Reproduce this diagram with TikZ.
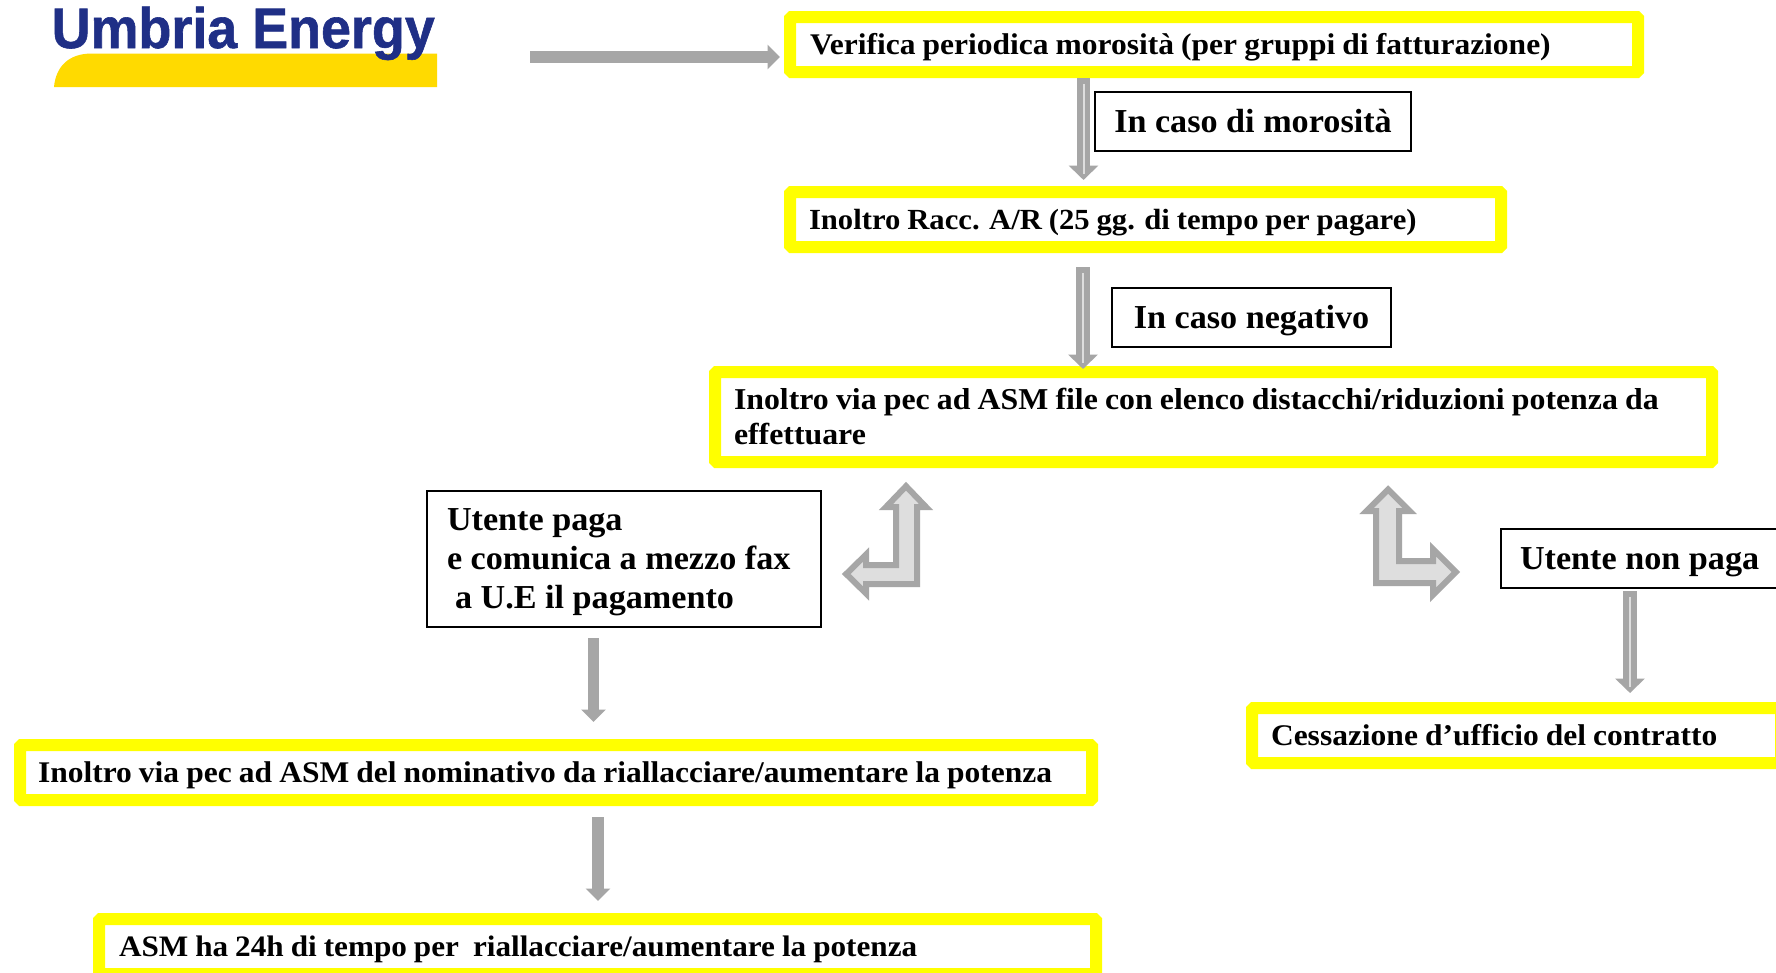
\documentclass[tikz,border=0pt]{standalone}
\usepackage{fontspec}
\usetikzlibrary{arrows.meta,calc}
\setmainfont{Liberation Serif}
\newfontfamily\smallface{Liberation Serif}[FakeStretch=1.05,WordSpace=0.9]
\newfontfamily\bigface{Liberation Serif}[FakeStretch=1.02]
\newfontfamily\logoface{Liberation Sans}[FakeStretch=0.945,FakeBold=1]
\definecolor{arrowgray}{HTML}{A6A6A6}
\definecolor{arrowlight}{HTML}{DEDEDE}
\definecolor{boxyellow}{HTML}{FFFF00}
\definecolor{logoyellow}{HTML}{FFDA00}
\definecolor{logoblue}{HTML}{1F2F86}
\newcommand{\ysize}[1]{\fontsize{#1}{35}\selectfont}
\tikzset{
  x=1pt,y=-1pt,
  ybox/.style={draw=boxyellow,fill=white,line width=12pt,outer sep=0pt,rounded corners=1.5pt,anchor=north west,
    align=flush left,inner ysep=0pt,font=\smallface\fontsize{30}{35}\selectfont\bfseries},
  oneline/.style={text height=24.5pt,text depth=4pt},
  kbox/.style={draw=black,fill=white,line width=2.4pt,outer sep=0pt,anchor=north west,inner sep=0pt,
    font=\bigface\fontsize{33.5}{39}\selectfont\bfseries},
  kline/.style={text height=26pt,text depth=4pt},
  solidarrow/.style={draw=arrowgray,line width=11.5pt,-{Triangle[length=12.5pt,width=24pt]}},
  hollowarrow/.style={draw=arrowgray,line width=13.5pt,-{Triangle[length=14.5pt,width=29pt]}},
  hollowcore/.style={draw=arrowlight,line width=2pt},
  bentarrow/.style={draw=arrowgray,fill=arrowlight,line width=6pt,miter limit=10}
}
\begin{document}
\begin{tikzpicture}
\useasboundingbox (0,0) rectangle (1776,972);
\clip (0,0) rectangle (1776,972);
\fill[white] (0,0) rectangle (1776,972);

% logo
\fill[logoyellow] (54,87) .. controls (56,66) and (69,53.5) .. (92,53.5) -- (437,53.5) -- (437,87) -- cycle;
\node[anchor=base west,inner sep=0pt,text=logoblue,font=\logoface\fontsize{57}{60}\selectfont\bfseries] (logo) at (51.5,48) {Umbria Energy};

% yellow boxes
\node[ybox,oneline,text width=808pt,inner xsep=20pt,minimum height=55pt] (b1) at (790,17) {Verifica periodica morosità (per gruppi di fatturazione)};
\node[ybox,oneline,text width=673pt,inner xsep=19pt,minimum height=55pt] (b2) at (790,192) {\ysize{29.2}Inoltro Racc. A/R (25 gg. di tempo per pagare)};
\node[ybox,text width=959pt,inner xsep=19pt,minimum height=90pt] (b3) at (715,372) {\ysize{30.3}Inoltro via pec ad ASM file con elenco distacchi/riduzioni potenza da\\effettuare};
\node[ybox,text width=491pt,inner xsep=19pt,minimum height=55pt] (b4) at (1252,708) {Cessazione d’ufficio del contratto};
\node[ybox,oneline,text width=1036pt,inner xsep=18pt,minimum height=55pt] (b5) at (20,745) {Inoltro via pec ad ASM del nominativo da riallacciare/aumentare la potenza};
\node[ybox,oneline,text width=957pt,inner xsep=20pt,minimum height=55pt] (b6) at (99,919) {\ysize{29.7}ASM ha 24h di tempo per\ \ riallacciare/aumentare la potenza};

% black boxes
\node[kbox,kline,minimum width=316pt,minimum height=59pt] (k1) at (1095,92) {In caso di morosità};
\node[kbox,kline,minimum width=279pt,minimum height=59pt] (k2) at (1112,288) {In caso negativo};
\node[kbox,text width=354pt,inner xsep=20pt,minimum height=136pt,align=flush left] (k3) at (427,491) {\rule{0pt}{28pt}Utente paga\\e comunica a mezzo fax\\\hspace*{8pt}a U.E il pagamento};
\node[kbox,kline,text width=270pt,inner xsep=19pt,minimum height=59pt,align=flush left] (k4) at (1501,529) {Utente non paga};

% connector ends
\coordinate (a0s) at (530,57);   \coordinate (a0e) at (780,57);
\coordinate (a1s) at (1083.5,78);  \coordinate (a1e) at (1083.5,180);
\coordinate (a2s) at (1083,267);   \coordinate (a2e) at (1083,369);
\coordinate (a3s) at (1630,591);   \coordinate (a3e) at (1630,693);
\coordinate (a4s) at (593.5,638);  \coordinate (a4e) at (593.5,722);
\coordinate (a5s) at (598,817);    \coordinate (a5e) at (598,901);

\draw[solidarrow] (a0s) -- (a0e);
\draw[hollowarrow] (a1s) -- (a1e);
\draw[hollowcore] ($(a1s)+(0,6)$) -- ($(a1e)+(0,-6)$);
\draw[hollowarrow] (a2s) -- (a2e);
\draw[hollowcore] ($(a2s)+(0,6)$) -- ($(a2e)+(0,-6)$);
\draw[hollowarrow] (a3s) -- (a3e);
\draw[hollowcore] ($(a3s)+(0,6)$) -- ($(a3e)+(0,-6)$);
\draw[solidarrow] (a4s) -- (a4e);
\draw[solidarrow] (a5s) -- (a5e);

% bent arrows
\draw[bentarrow] (906,486.2) -- (926,507) -- (917,507) -- (917,584) -- (866,584) -- (866,593.4) -- (846.2,574) -- (866,554.6) -- (866,565) -- (896,565) -- (896,507) -- (886,507) -- cycle;
\draw[bentarrow] (1388,489.5) -- (1409.5,511) -- (1399,511) -- (1399,561) -- (1433,561) -- (1433,549.2) -- (1455.8,572) -- (1433,594.8) -- (1433,583) -- (1376,583) -- (1376,511) -- (1366.5,511) -- cycle;
\end{tikzpicture}
\end{document}
